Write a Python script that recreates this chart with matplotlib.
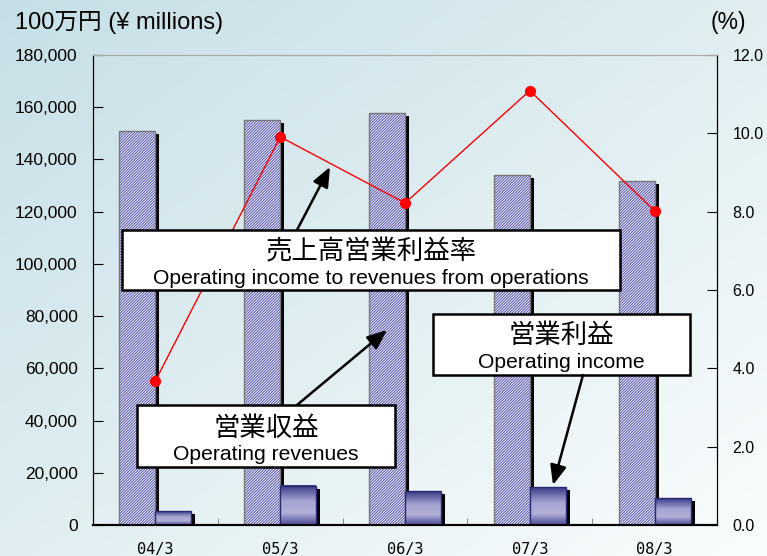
import numpy as np
import matplotlib
matplotlib.use('Agg')
import matplotlib.pyplot as plt
import matplotlib.transforms as mtransforms
from matplotlib.colors import LinearSegmentedColormap
from matplotlib.patches import Rectangle

plt.rcParams['font.family'] = ['Liberation Sans', 'Noto Sans CJK JP']
plt.rcParams['hatch.linewidth'] = 0.8

years = ['04/3', '05/3', '06/3', '07/3', '08/3']
revenues = [151000, 155100, 157600, 134000, 131700]   # 営業収益
op_income = [5250, 15050, 12900, 14440, 10340]         # 営業利益
margin = [3.68, 9.91, 8.22, 11.09, 8.02]               # 売上高営業利益率 (%)

W, H = 767, 556
fig = plt.figure(figsize=(W / 100, H / 100), dpi=100)

# gradient background
bg = fig.add_axes([0, 0, 1, 1], zorder=-5)
gx, gy = np.meshgrid(np.linspace(0, 1, 200), np.linspace(0, 1, 150))
t = 0.5 * gx + 0.5 * gy
c0 = np.array([0xc6, 0xdf, 0xe6]) / 255
c1 = np.array([0xfa, 0xfd, 0xfd]) / 255
img = c0[None, None, :] * (1 - t[..., None]) + c1[None, None, :] * t[..., None]
bg.imshow(img, aspect='auto', extent=[0, 1, 0, 1], origin='upper')
bg.axis('off')

ax = fig.add_axes([93 / W, 1 - 525 / H, 624 / W, 470 / H])
ax.set_facecolor('none')
x = np.arange(len(years))
bw = 0.288

# drop shadows
shift = mtransforms.ScaledTranslation(4 / 100, -3 / 100, fig.dpi_scale_trans)
ax.bar(x - bw / 2, revenues, bw, color='black', transform=ax.transData + shift, zorder=1)
ax.bar(x + bw / 2, op_income, bw, color='black', transform=ax.transData + shift, zorder=3)

# operating revenues: hatched
ax.bar(x - bw / 2, revenues, bw, color='white', edgecolor='#5c5cb8', hatch='////////////',
       linewidth=0, zorder=2)
ax.bar(x - bw / 2, revenues, bw, fill=False, edgecolor='#777777', linewidth=1, zorder=2.1)

# operating income: gradient
cmap = LinearSegmentedColormap.from_list('inc', [(0, '#4a4a94'), (0.3, '#b0b0d8'),
                                                 (0.6, '#a4a4d2'), (1, '#3a3a88')])
grad = np.linspace(0, 1, 100)[:, None]
for xi, v in zip(x, op_income):
    ax.imshow(grad, extent=[xi, xi + bw, 0, v], origin='lower', cmap=cmap,
              aspect='auto', zorder=4)
ax.bar(x + bw / 2, op_income, bw, fill=False, edgecolor='#2a2a70', linewidth=1, zorder=4.1)

ax.set_xlim(-0.5, 4.5)
ax.set_ylim(0, 180000)
ax.set_yticks(np.arange(0, 180001, 20000))
ax.set_yticklabels([f'{v:,}' for v in range(0, 180001, 20000)], fontsize=12.5)
ax.tick_params(axis='y', direction='in', length=7, color='black', pad=11)
ax.set_xticks(x)
ax.set_xticklabels(years, family='DejaVu Sans Mono', fontsize=11)
ax.tick_params(axis='x', length=0, pad=12)
ax.set_xticks(x[:-1] + 0.5, minor=True)
ax.tick_params(axis='x', which='minor', direction='in', length=5, color='#777777')
ax.spines['top'].set_color('#aaaaaa')
ax.spines['bottom'].set_linewidth(1.5)

ax2 = ax.twinx()
ax2.plot(x, margin, color='red', lw=1, marker='o', markersize=7, zorder=5)
ax2.set_ylim(0, 12)
ax2.set_yticks(np.arange(0, 12.1, 2))
ax2.set_yticklabels([f'{v:.1f}' for v in np.arange(0, 12.1, 2)], fontsize=11.5)
ax2.tick_params(axis='y', direction='in', length=7, pad=11)
ax2.spines['top'].set_color('#aaaaaa')
ax2.spines['bottom'].set_linewidth(1.5)

fig.text(15 / W, 1 - 22 / H, '100万円 (¥ millions)', fontsize=17, va='center')
fig.text(728 / W, 1 - 22 / H, '(%)', fontsize=16.5, va='center', ha='center')


def px(xp, yp):
    return (xp / W, 1 - yp / H)


def label_box(x0, y0, x1, y1, jp, en, jp_y, en_y):
    fig.add_artist(Rectangle(px(x0, y1), (x1 - x0) / W, (y1 - y0) / H,
                             transform=fig.transFigure, facecolor='white',
                             edgecolor='black', linewidth=1.8, zorder=10))
    cx = (x0 + x1) / 2
    fig.text(*px(cx, jp_y), jp, fontsize=19, ha='center', va='center',
             family='Noto Sans CJK JP', zorder=11)
    fig.text(*px(cx, en_y), en, fontsize=15.2, ha='center', va='center', zorder=11)


def arrow(xs, ys, xe, ye):
    fig.add_artist(plt.Annotation('', xy=px(xe, ye), xytext=px(xs, ys),
                                  xycoords='figure fraction', textcoords='figure fraction',
                                  arrowprops=dict(arrowstyle='-|>,head_length=1.2,head_width=0.5',
                                                  color='black', lw=1.8, shrinkA=0, shrinkB=0),
                                  zorder=12))


label_box(122, 230, 620, 290, '売上高営業利益率',
          'Operating income to revenues from operations', 252, 279)
label_box(433, 314, 690, 375, '営業利益', 'Operating income', 335, 363)
label_box(137, 405, 395, 467, '営業収益', 'Operating revenues', 428, 455)

arrow(297, 230, 330, 167)
arrow(583, 375, 553, 485)
arrow(297, 405, 387, 330)

fig.savefig('out.png', dpi=100)
